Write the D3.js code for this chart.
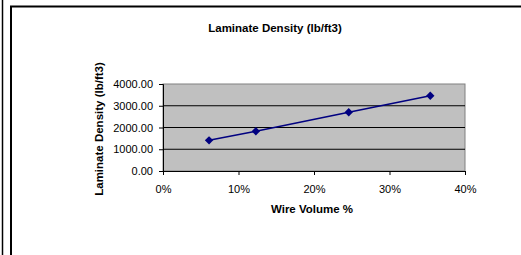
<!DOCTYPE html>
<html>
<head>
<meta charset="utf-8">
<script src="https://cdn.jsdelivr.net/npm/d3@7"></script>
<style>
  body { margin: 0; background: #fff; }
  text { font-family: "Liberation Sans", Arial, sans-serif; fill: #000; }
</style>
</head>
<body>
<div id="chart"></div>
<script>
// data
var wireVolume = [0.061, 0.123, 0.246, 0.354];
var density = [1410, 1825, 2700, 3460];
var yTicks = [0, 1000, 2000, 3000, 4000];
var xTicks = [0, 0.1, 0.2, 0.3, 0.4];

var svgWidth = 521;
var svgHeight = 255;

var margin = { top: 84, left: 163, right: 56, bottom: 84 };
var width = 465 - margin.left;
var height = 171 - margin.top;

var svg = d3.select("#chart")
  .append("svg")
  .attr("width", svgWidth)
  .attr("height", svgHeight);

// frame lines
svg.append("line")
  .attr("x1", 2.5).attr("x2", 2.5).attr("y1", 0).attr("y2", svgHeight)
  .attr("stroke", "#000").attr("stroke-width", 1.5);
svg.append("path")
  .attr("d", "M11," + svgHeight + "V6.5H" + svgWidth)
  .attr("fill", "none").attr("stroke", "#000").attr("stroke-width", 2);

var chartGroup = svg.append("g")
  .attr("transform", `translate(${margin.left}, ${margin.top})`);

var xScale = d3.scaleLinear().domain([0, 0.4]).range([0, width]);
var yScale = d3.scaleLinear().domain([0, 4000]).range([height, 0]);

// plot area
chartGroup.append("rect")
  .attr("width", width)
  .attr("height", height)
  .attr("fill", "#c0c0c0")
  .attr("stroke", "#808080")
  .attr("stroke-width", 1);

// gridlines
chartGroup.selectAll(".grid")
  .data(yTicks.slice(1, -1))
  .enter()
  .append("line")
  .attr("x1", 0).attr("x2", width)
  .attr("y1", d => yScale(d)).attr("y2", d => yScale(d))
  .attr("stroke", "#000").attr("stroke-width", 1);

// axes
var leftAxis = d3.axisLeft(yScale).tickValues(yTicks)
  .tickFormat(d3.format(".2f")).tickSize(4).tickPadding(6);
var bottomAxis = d3.axisBottom(xScale).tickValues(xTicks)
  .tickFormat(d3.format(".0%")).tickSize(4).tickPadding(10);

var yAxisG = chartGroup.append("g").call(leftAxis);
var xAxisG = chartGroup.append("g")
  .attr("transform", "translate(0, " + height + ")")
  .call(bottomAxis);

[yAxisG, xAxisG].forEach(function(g) {
  g.selectAll("text").attr("font-size", "11px").attr("font-family", "'Liberation Sans', Arial, sans-serif");
  g.selectAll("line").attr("stroke", "#000");
  g.select(".domain").attr("stroke", "#000");
});

// series line
var line = d3.line()
  .x((d, i) => xScale(wireVolume[i]))
  .y(d => yScale(d));

chartGroup.append("path")
  .datum(density)
  .attr("d", line)
  .attr("fill", "none")
  .attr("stroke", "#000080")
  .attr("stroke-width", 1.5);

chartGroup.selectAll(".marker")
  .data(density)
  .enter()
  .append("path")
  .attr("d", d3.symbol().type(d3.symbolDiamond2).size(45))
  .attr("transform", (d, i) => `translate(${xScale(wireVolume[i])}, ${yScale(d)})`)
  .attr("fill", "#000080");

// titles
svg.append("text")
  .attr("x", 275).attr("y", 32)
  .attr("text-anchor", "middle")
  .attr("font-size", "11.5px").attr("font-weight", "bold")
  .text("Laminate Density (lb/ft3)");

svg.append("text")
  .attr("x", 312).attr("y", 213)
  .attr("text-anchor", "middle")
  .attr("font-size", "11.5px").attr("font-weight", "bold")
  .text("Wire Volume %");

svg.append("text")
  .attr("transform", "translate(103, 129) rotate(-90)")
  .attr("text-anchor", "middle")
  .attr("font-size", "11.5px").attr("font-weight", "bold")
  .text("Laminate Density (lb/ft3)");
</script>
</body>
</html>
